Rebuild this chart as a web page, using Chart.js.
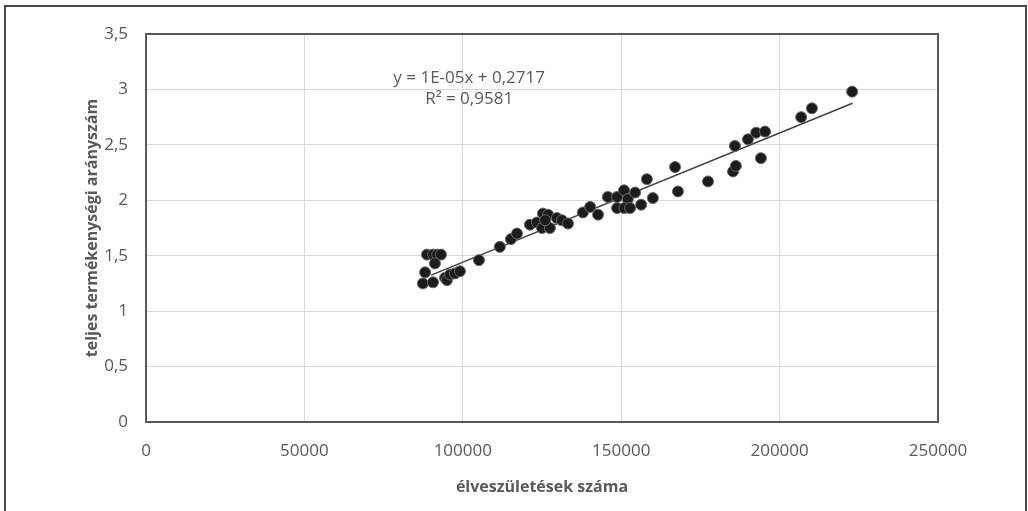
<!DOCTYPE html>
<html>
<head>
<meta charset="utf-8">
<script src="https://cdn.jsdelivr.net/npm/chart.js@4.4.1/dist/chart.umd.min.js"></script>
<style>
  html, body { margin: 0; padding: 0; background: #fff; overflow: hidden; }
  #frame { position: absolute; left: 4px; top: 5px; width: 1019px; height: 520px; border: 2px solid #4a4a4a; }
  #wrap { position: absolute; left: 0; top: 0; width: 1028px; height: 511px; }
</style>
</head>
<body>
<div id="frame"></div>
<div id="wrap"><canvas id="chart"></canvas></div>
<script>
'use strict'

// Births (x) vs total fertility rate (y)
let births = [87400, 88100, 88700, 90600, 91900, 93100, 91200, 90600, 94400, 95000,
  96000, 97500, 99100, 105100, 111700, 115200, 117100, 121200, 123400, 125300,
  126900, 125000, 127500, 126000, 129700, 131300, 133200, 137900, 140200, 142700,
  145800, 148700, 150900, 152100, 154400, 148700, 151000, 152800, 156300, 158100,
  160000, 167000, 167900, 177400, 185300, 186200, 185900, 190000, 192600, 195400,
  194100, 206800, 210200, 222900];
let tfr = [1.25, 1.35, 1.51, 1.51, 1.51, 1.51, 1.43, 1.26, 1.30, 1.28,
  1.33, 1.34, 1.36, 1.46, 1.58, 1.65, 1.70, 1.78, 1.80, 1.88,
  1.87, 1.75, 1.75, 1.82, 1.84, 1.82, 1.79, 1.89, 1.94, 1.87,
  2.03, 2.03, 2.09, 2.01, 2.07, 1.93, 1.93, 1.93, 1.96, 2.19,
  2.02, 2.30, 2.08, 2.17, 2.26, 2.31, 2.49, 2.55, 2.61, 2.62,
  2.38, 2.75, 2.83, 2.98];

// linear trendline ends
let trendX = [90000, 223000];
let trendY = [1.325, 2.875];

let equationLines = ['y = 1E-05x + 0,2717', 'R² = 0,9581'];
let xTitle = 'élveszületések száma';
let yTitle = 'teljes termékenységi arányszám';

let textColor = '#595959';
let fontFamily = "'Open Sans', sans-serif";

let points = births.map((b, i) => ({ x: b, y: tfr[i] }));
let trend = trendX.map((t, i) => ({ x: t, y: trendY[i] }));

// plot area border + trendline label
let extras = {
  id: 'extras',
  afterDatasetsDraw(chart) {
    const ctx = chart.ctx;
    const a = chart.chartArea;
    ctx.save();
    ctx.strokeStyle = '#595959';
    ctx.lineWidth = 2;
    ctx.strokeRect(a.left, a.top, a.right - a.left, a.bottom - a.top);
    ctx.fillStyle = textColor;
    ctx.font = "17px " + fontFamily;
    ctx.textAlign = 'center';
    ctx.textBaseline = 'middle';
    const px = chart.scales.x.getPixelForValue(102000);
    ctx.fillText(equationLines[0], px, chart.scales.y.getPixelForValue(3.10));
    ctx.fillText(equationLines[1], px, chart.scales.y.getPixelForValue(2.91));
    ctx.restore();
  }
};

const config = {
  type: 'scatter',
  data: {
    datasets: [{
      label: 'TFR',
      data: points,
      backgroundColor: '#1c1c1c',
      borderColor: '#666666',
      borderWidth: 1,
      pointRadius: 5.5,
      pointHoverRadius: 5.5
    }, {
      label: 'trend',
      type: 'line',
      data: trend,
      borderColor: '#404040',
      borderWidth: 1.5,
      pointRadius: 0,
      fill: false
    }]
  },
  options: {
    responsive: false,
    animation: false,
    devicePixelRatio: 1,
    layout: { padding: { top: 34, right: 90, left: 0, bottom: 0 } },
    plugins: {
      legend: { display: false },
      tooltip: { enabled: false }
    },
    scales: {
      x: {
        type: 'linear',
        min: 0,
        max: 250000,
        ticks: {
          stepSize: 50000,
          color: textColor,
          padding: 19,
          font: { family: fontFamily, size: 17 },
          callback: v => String(v)
        },
        grid: { color: '#d9d9d9', drawTicks: false },
        border: { display: false },
        title: {
          display: true,
          text: xTitle,
          color: textColor,
          font: { family: fontFamily, size: 16, weight: 'bold' },
          padding: { top: 0, bottom: 14 }
        },
        afterFit(scale) { scale.height = 89; }
      },
      y: {
        min: 0,
        max: 3.5,
        ticks: {
          stepSize: 0.5,
          color: textColor,
          padding: 18,
          font: { family: fontFamily, size: 17 },
          callback: v => String(v).replace('.', ',')
        },
        grid: { color: '#d9d9d9', drawTicks: false },
        border: { display: false },
        title: {
          display: true,
          text: yTitle,
          color: textColor,
          font: { family: fontFamily, size: 16, weight: 'bold' },
          padding: { top: 83, bottom: 0 }
        },
        afterFit(scale) { scale.width = 146; }
      }
    }
  },
  plugins: [extras]
};

let canvas = document.getElementById('chart');
canvas.width = 1028;
canvas.height = 511;
const myChart = new Chart(canvas, config);
</script>
</body>
</html>
